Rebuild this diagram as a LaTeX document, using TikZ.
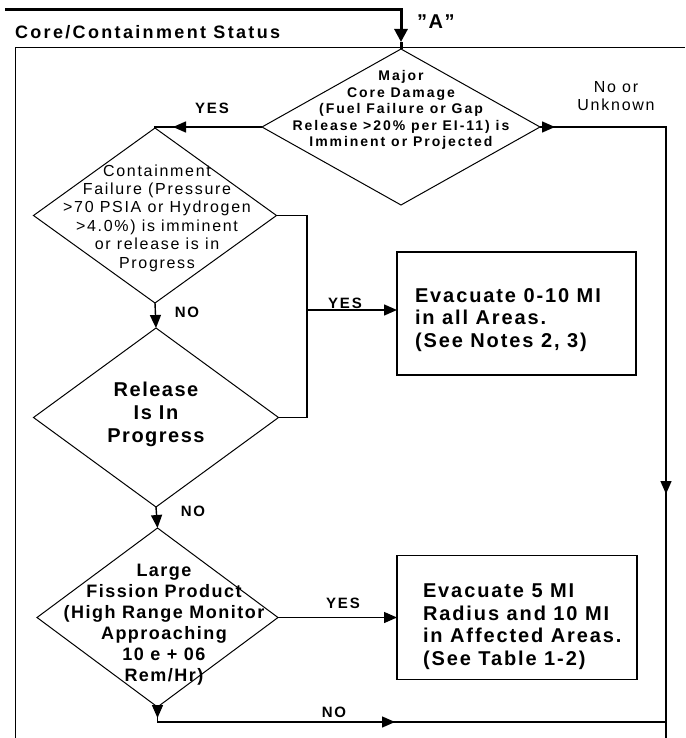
\documentclass[tikz,border=0pt]{standalone}
\usepackage{fontspec}
\setmainfont{Liberation Sans}
\usetikzlibrary{shapes.geometric,arrows.meta}
\tikzset{
  conn/.style={line width=1.4pt},
  thickl/.style={line width=3pt},
  carr/.style={-{Triangle[length=13pt,width=11pt]}},
  bigarr/.style={-{Triangle[length=13pt,width=13pt]}},
  framel/.style={line width=1pt},
  cdia/.style={diamond, draw, line width=1pt, inner sep=0pt, outer sep=0pt},
  cbox/.style={rectangle, draw, line width=1.4pt, inner sep=0pt, outer sep=0pt},
  txtbase/.style={inner sep=0pt, outer sep=0pt},
  lbl/.style={txtbase, font={\fontsize{15}{15}\selectfont\bfseries\addfontfeature{LetterSpace=12}}},
  ttl/.style={txtbase, font={\fontsize{18}{18}\selectfont\bfseries\addfontfeature{LetterSpace=13}}},
  alab/.style={txtbase, font={\fontsize{20}{20}\selectfont\bfseries\addfontfeature{LetterSpace=8}}},
  unk/.style={txtbase, align=center, font={\fontsize{16}{18}\selectfont\addfontfeature{LetterSpace=11}}},
  dtxta/.style={txtbase, align=center, font={\fontsize{14}{16.5}\selectfont\bfseries\addfontfeature{LetterSpace=14}}},
  dtxtb/.style={txtbase, align=center, font={\fontsize{16}{18.4}\selectfont\addfontfeature{LetterSpace=10.6}}},
  dtxtc/.style={txtbase, align=center, font={\fontsize{20}{23}\selectfont\bfseries\addfontfeature{LetterSpace=7.5}}},
  dtxtd/.style={txtbase, align=center, font={\fontsize{18}{21}\selectfont\bfseries\addfontfeature{LetterSpace=8.3}}},
  btxt/.style={txtbase, align=left, font={\fontsize{20}{22.5}\selectfont\bfseries\addfontfeature{LetterSpace=9.5}}},
}
\begin{document}
\begin{tikzpicture}[x=1pt,y=-1pt]
\useasboundingbox (0,0) rectangle (685,738);
\fill[white] (0,0) rectangle (685,738);

% frame
\coordinate (fBL) at (15,738);
\coordinate (fTL) at (15,48);
\coordinate (fTR) at (685,48);
\draw[framel] (fBL) -- (fTL) -- (fTR);

% title and entry label
\node[ttl, anchor=base west] (title) at (15,39) {Core/Containment Status};
\node[alab, anchor=base west] (alabel) at (417,29) {"A"};

% decision diamonds
\node[cdia, minimum width=278, minimum height=156] (d1) at (401,127) {};
\node[dtxta] (t1) at (401,110) {Major\\Core Damage\\(Fuel Failure or Gap\\Release >20\% per EI-11) is\\Imminent or Projected};

\node[cdia, minimum width=243, minimum height=175] (d2) at (155,215.5) {};
\node[dtxtb] (t2) at (157,218) {Containment\\Failure (Pressure\\>70 PSIA or Hydrogen\\>4.0\%) is imminent\\or release is in\\Progress};

\node[cdia, minimum width=245, minimum height=179] (d3) at (156,417.5) {};
\node[dtxtc] (t3) at (156,414) {Release\\Is In\\Progress};

\node[cdia, minimum width=241, minimum height=179] (d4) at (157.5,617.5) {};
\node[dtxtd] (t4) at (164,624.5) {Large\\Fission Product\\(High Range Monitor\\Approaching\\10 e + 06\\Rem/Hr)};

% action boxes
\node[cbox, minimum width=239, minimum height=123] (b1) at (516.5,313.5) {};
\node[btxt, anchor=west] (bt1) at (415,320) {Evacuate 0-10 MI\\in all Areas.\\(See Notes 2, 3)};
\node[cbox, minimum width=240, minimum height=124] (b2) at (517,617.5) {};
\node[btxt, anchor=west] (bt2) at (423,626.5) {Evacuate 5 MI\\Radius and 10 MI\\in Affected Areas.\\(See Table 1-2)};

% labels
\node[lbl] (yes1) at (212,108) {YES};
\node[unk] (unk) at (616,96) {No or\\Unknown};
\node[lbl] (no1) at (187,312) {NO};
\node[lbl] (yes2) at (345,303) {YES};
\node[lbl] (no2) at (193,511) {NO};
\node[lbl] (yes3) at (343,603) {YES};
\node[lbl] (no3) at (334,712) {NO};

% entry connector
\coordinate (inS) at (5,10);
\coordinate (inC) at (401,10);
\coordinate (inTip) at (401,42);
\draw[thickl, bigarr] (inS) -- (inC) -- (inTip);
\draw[thickl] (inTip) -- (d1.north);

% d1 -> d2 (YES)
\coordinate (lTip) at (173,127);
\draw[conn] (d1.west) -- (d1.west -| d2.north) -- (d2.north);
\draw[conn, carr] (d1.west) -- (lTip);

% d1 -> right (No or Unknown)
\coordinate (rT) at (666,127);
\coordinate (rB) at (666,738);
\coordinate (rTip) at (555,127);
\coordinate (rDown) at (666,494);
\draw[conn] (d1.east) -- (rT) -- (rB);
\draw[conn, carr] (d1.east) -- (rTip);
\draw[conn, carr] (rT) -- (rDown);

% d2 -> d3 (NO), d3 -> d4 (NO)
\draw[conn, carr] (d2.south) -- (d3.north);
\draw[conn, carr] (d3.south) -- (d4.north);

% d2/d3 YES -> b1
\coordinate (j) at (307,310);
\draw[conn] (d2.east) -- (d2.east -| j) -- (d3.east -| j) -- (d3.east);
\draw[conn, carr] (j) -- (j -| b1.west);

% d4 YES -> b2
\draw[conn, carr] (d4.east) -- (d4.east -| b2.west);

% d4 NO -> right line
\coordinate (bc) at (157.5,722);
\coordinate (d4tip) at (157.5,718);
\coordinate (nTip) at (395,722);
\draw[conn] (d4.south) -- (bc) -- (bc -| rB);
\draw[conn, carr] (d4.south) -- (d4tip);
\draw[conn, carr] (bc) -- (nTip);
\end{tikzpicture}
\end{document}
